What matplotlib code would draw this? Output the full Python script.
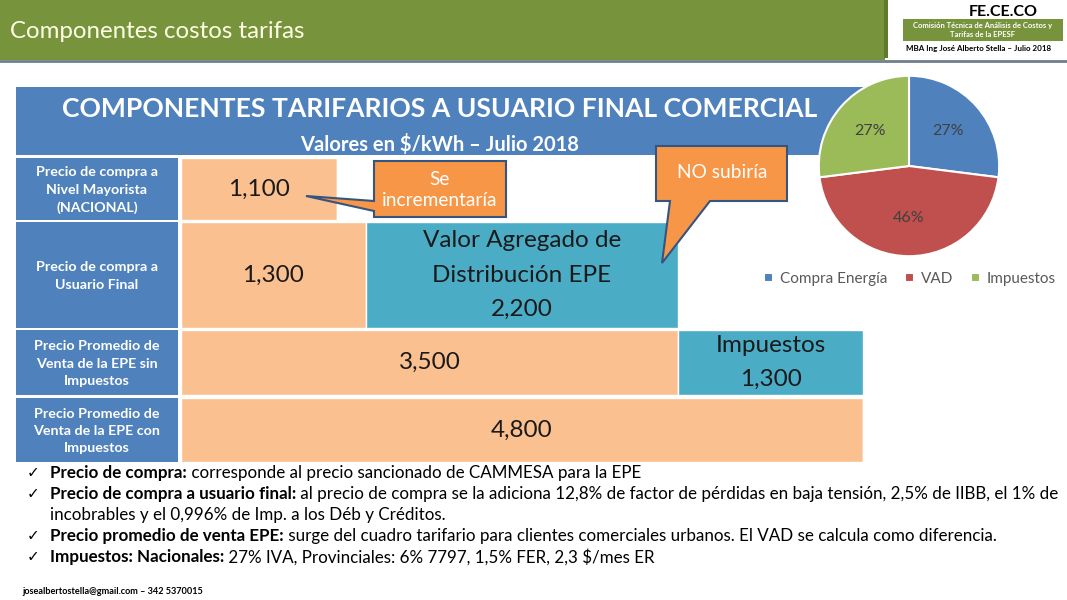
import matplotlib
matplotlib.use("Agg")
import matplotlib.pyplot as plt
from matplotlib.patches import Rectangle, Polygon

# ---------------- data ----------------
row_labels = ["Precio de compra a\nNivel Mayorista\n(NACIONAL)",
              "Precio de compra a\nUsuario Final",
              "Precio Promedio de\nVenta de la EPE sin\nImpuestos",
              "Precio Promedio de\nVenta de la EPE con\nImpuestos"]
first_values = [1100, 1300, 3500, 4800]          # $/kWh (orange segments)
second_values = [0, 2200, 1300, 0]               # VAD / Impuestos (teal)
second_names = ["", "Valor Agregado de\nDistribución EPE", "Impuestos", ""]

pie_labels = ["Compra Energía", "VAD", "Impuestos"]
pie_values = [27, 46, 27]

callout_texts = ["Se\nincrementaría", "NO subiría"]

bullets = [
    ("Precio de compra:", " corresponde al precio sancionado de CAMMESA para la EPE", None),
    ("Precio de compra a usuario final:",
     " al precio de compra se la adiciona 12,8% de factor de pérdidas en baja tensión, 2,5% de IIBB, el 1% de",
     "incobrables y el 0,996% de Imp. a los Déb y Créditos."),
    ("Precio promedio de venta EPE:",
     " surge del cuadro tarifario para clientes comerciales urbanos. El VAD se calcula como diferencia.", None),
    ("Impuestos: Nacionales:", " 27% IVA, Provinciales: 6% 7797, 1,5% FER, 2,3 $/mes ER", None),
]

# ---------------- style ----------------
GREEN = "#77933C"
BLUE = "#4F81BD"
PEACH = "#FAC090"
TEAL = "#4BACC6"
ORANGE = "#F79646"
EDGE = "#34557F"
PIE_COLORS = ["#4F81BD", "#C0504D", "#9BBB59"]

plt.rcParams['font.family'] = ['Lato', 'DejaVu Sans']

W, H = 1067, 600
fig = plt.figure(figsize=(W / 100, H / 100), dpi=100)
fig.patch.set_facecolor("white")

ax = fig.add_axes([0, 0, 1, 1], zorder=0)
ax.set_xlim(0, W); ax.set_ylim(H, 0); ax.axis('off')

# header
ax.add_patch(Rectangle((0, 0), 885, 60, color=GREEN, lw=0))
ax.add_patch(Rectangle((884, 0), 4, 58, color="#5E7A2E", lw=0))
ax.plot([0, W], [61, 61], color="#6F7F8C", lw=2)
ax.text(10, 31, "Componentes costos tarifas", color="#FFFFE6", fontsize=17.3,
        va='center', ha='left')
ax.text(1003, 12, "FE.CE.CO", fontsize=11.5, fontweight='bold', ha='center', va='center')
ax.add_patch(Rectangle((903, 19), 160, 22, color=GREEN, lw=0))
ax.text(983, 30, "Comisión Técnica de Análisis de Costos y\nTarifas de la EPESF", fontsize=5.5,
        fontweight='bold', color='white', ha='center', va='center', linespacing=1.4)
ax.text(979, 49, "MBA Ing José Alberto Stella – Julio 2018", fontsize=5.8,
        fontweight='bold', ha='center', va='center')

# title box
ax.add_patch(Rectangle((16, 87), 850, 68, color=BLUE, lw=0))
ax.text(440, 109, "COMPONENTES TARIFARIOS A USUARIO FINAL COMERCIAL", color='white',
        fontsize=19.1, fontweight='bold', ha='center', va='center')
ax.text(440, 145, "Valores en $/kWh – Julio 2018", color='white',
        fontsize=14.5, fontweight='bold', ha='center', va='center')

# rows geometry (pixel y)
row_top = [158, 222, 330, 398]
row_bot = [220, 328, 395, 462]
for lab, t, b in zip(row_labels, row_top, row_bot):
    ax.add_patch(Rectangle((16, t), 162, b - t, color=BLUE, lw=0))
    ax.text(97, (t + b) / 2 + 1, lab, color='white', fontsize=10.3, fontweight='bold',
            ha='center', va='center', linespacing=1.55)

# bar axes
bx = fig.add_axes([181 / W, 1 - 462 / H, 682 / W, 304 / H], zorder=1)
bx.set_xlim(0, first_values[3] + second_values[3])
bx.set_ylim(462, 158)
bx.axis('off')
centers = [(t + b) / 2 for t, b in zip(row_top, row_bot)]
heights = [b - t for t, b in zip(row_top, row_bot)]
bx.barh(centers, first_values, height=heights, left=0, color=PEACH,
        edgecolor='white', linewidth=1.0)
bx.barh(centers, second_values, height=heights, left=first_values, color=TEAL,
        edgecolor='white', linewidth=1.0)
for c, v, v2, name in zip(centers, first_values, second_values, second_names):
    bx.text(v / 2, c, f"{v:,}", fontsize=17.5, ha='center', va='center', color='#1A1A1A')
    if v2:
        bx.text(v + v2 / 2, c, f"{name}\n{v2:,}", fontsize=17.5, ha='center', va='center',
                color='#1A1A1A', linespacing=1.8)

# pie
px = fig.add_axes([(909 - 92) / W, 1 - (166 + 92) / H, 184 / W, 184 / H], zorder=2)
wedges, _, autot = px.pie(pie_values, colors=PIE_COLORS, startangle=90, counterclock=False,
                          autopct='%d%%', pctdistance=0.58,
                          wedgeprops=dict(edgecolor='white', linewidth=1.5),
                          textprops=dict(color='#404040', fontsize=11.5))
px.set_xlim(-1.02, 1.02); px.set_ylim(-1.02, 1.02)
fig.legend(wedges, pie_labels, loc='center', bbox_to_anchor=(910 / W, 1 - 279 / H), ncol=3,
           frameon=False, fontsize=11, handlelength=0.6, handleheight=0.6, handletextpad=0.4,
           columnspacing=1.2, labelcolor='#595959')

# top overlay for callouts
top = fig.add_axes([0, 0, 1, 1], zorder=5)
top.set_xlim(0, W); top.set_ylim(H, 0); top.axis('off'); top.patch.set_alpha(0)
c1 = [(374, 161), (506, 161), (506, 217), (374, 217), (374, 211), (306, 196), (374, 201)]
top.add_patch(Polygon(c1, closed=True, facecolor=ORANGE, edgecolor=EDGE, lw=1.5))
top.text(440, 190, callout_texts[0], color='white', fontsize=13.8, ha='center', va='center',
         linespacing=1.3)
c2 = [(656, 146), (787, 146), (787, 201), (710, 201), (662, 263), (670, 201), (656, 201)]
top.add_patch(Polygon(c2, closed=True, facecolor=ORANGE, edgecolor=EDGE, lw=1.5))
top.text(722, 173, callout_texts[1], color='white', fontsize=13.8, ha='center', va='center')

# bullets
fig.canvas.draw()
r = fig.canvas.get_renderer()
inv = ax.transData.inverted()
y = 473
for bold, normal, extra in bullets:
    ax.text(33, y, "✓", fontsize=11, ha='center', va='center', family=['DejaVu Sans'])
    t = ax.text(50, y, bold, fontsize=12.25, fontweight='bold', ha='left', va='center')
    bb = t.get_window_extent(renderer=r)
    x1 = inv.transform((bb.x1, bb.y0))[0]
    ax.text(x1, y, normal, fontsize=12.25, ha='left', va='center')
    y += 21
    if extra:
        ax.text(50, y, extra, fontsize=12.25, ha='left', va='center')
        y += 21

ax.text(22, 591, "josealbertostella@gmail.com – 342 5370015", fontsize=6.6,
        fontweight='bold', ha='left', va='center')

fig.savefig("out.png", dpi=100)
